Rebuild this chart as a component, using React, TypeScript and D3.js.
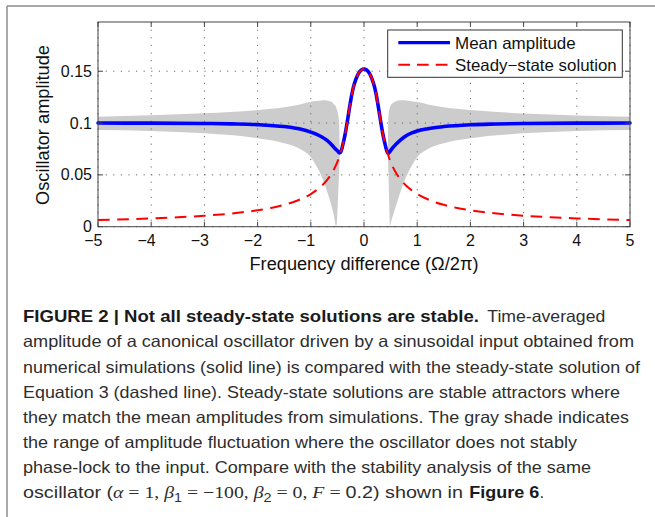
import React from 'react';
import * as d3 from 'd3';

// ---------- data ----------
const xTicks = [-5, -4, -3, -2, -1, 0, 1, 2, 3, 4, 5];
const yTicks = [0, 0.05, 0.1, 0.15];
const yTickLabels = ['0', '0.05', '0.1', '0.15'];

const meanX = [-5, -4, -3, -2.5, -2, -1.5, -1.2, -1.0, -0.9, -0.8, -0.7, -0.6, -0.55, -0.5, -0.46, -0.43, -0.4, -0.35, -0.3, -0.25, -0.2, -0.15, -0.1, -0.05, 0,
  0.05, 0.1, 0.15, 0.2, 0.25, 0.3, 0.35, 0.4, 0.43, 0.45, 0.5, 0.55, 0.6, 0.7, 0.8, 0.9, 1.0, 1.2, 1.5, 2, 2.5, 3, 4, 5];
const meanAmp = [0.1000, 0.0999, 0.0996, 0.0992, 0.0985, 0.0966, 0.0942, 0.0913, 0.0893, 0.0868, 0.0835, 0.0786, 0.0757, 0.0732, 0.0712, 0.0729, 0.0787, 0.0906, 0.1059, 0.1217, 0.1344, 0.1427, 0.1482, 0.1512, 0.1521,
  0.1512, 0.1482, 0.1427, 0.1344, 0.1217, 0.1059, 0.0906, 0.0787, 0.0729, 0.0706, 0.0735, 0.0768, 0.0795, 0.0843, 0.0880, 0.0905, 0.0924, 0.0946, 0.0966, 0.0984, 0.0991, 0.0996, 0.0999, 0.1000];

const steadyX = [-5, -4, -3.5, -3, -2.5, -2, -1.75, -1.5, -1.25, -1, -0.9, -0.8, -0.7, -0.6, -0.5, -0.45, -0.4, -0.35, -0.3, -0.25, -0.2, -0.15, -0.1, -0.05, 0,
  0.05, 0.1, 0.15, 0.2, 0.25, 0.3, 0.35, 0.4, 0.45, 0.5, 0.6, 0.7, 0.8, 0.9, 1, 1.25, 1.5, 1.75, 2, 2.5, 3, 3.5, 4, 5];
const steadyAmp = [0.0064, 0.0080, 0.0091, 0.0106, 0.0127, 0.0159, 0.0181, 0.0211, 0.0253, 0.0315, 0.0350, 0.0392, 0.0447, 0.0521, 0.0625, 0.0696, 0.0787, 0.0906, 0.1059, 0.1217, 0.1344, 0.1427, 0.1482, 0.1512, 0.1521,
  0.1512, 0.1482, 0.1427, 0.1344, 0.1217, 0.1059, 0.0906, 0.0787, 0.0696, 0.0625, 0.0521, 0.0447, 0.0392, 0.0350, 0.0315, 0.0253, 0.0211, 0.0181, 0.0159, 0.0127, 0.0106, 0.0091, 0.0080, 0.0064];

const bandLeftX = [-5, -4, -3, -2, -1.5, -1.2, -1.0, -0.9, -0.8, -0.75, -0.7, -0.65, -0.6, -0.56, -0.525, -0.51, -0.49, -0.47, -0.455];
const bandLeftHigh = [0.1062, 0.1075, 0.1094, 0.1126, 0.1152, 0.1180, 0.1205, 0.1213, 0.1218, 0.1220, 0.1218, 0.1212, 0.1200, 0.1180, 0.1155, 0.1130, 0.1090, 0.1020, 0.0712];
const bandLeftLow = [0.0933, 0.0924, 0.0901, 0.0853, 0.0805, 0.0750, 0.0670, 0.0590, 0.0490, 0.0425, 0.0350, 0.0270, 0.0180, 0.0090, 0.0005, 0.0040, 0.0260, 0.0500, 0.0712];

const bandRightX = [0.45, 0.455, 0.465, 0.475, 0.4875, 0.5, 0.55, 0.6, 0.65, 0.7, 0.75, 0.8, 0.9, 1.0, 1.2, 1.5, 2, 3, 4, 5];
const bandRightHigh = [0.0706, 0.1000, 0.1100, 0.1130, 0.1155, 0.1170, 0.1195, 0.1210, 0.1217, 0.1220, 0.1220, 0.1218, 0.1210, 0.1202, 0.1180, 0.1152, 0.1126, 0.1092, 0.1074, 0.1062];
const bandRightLow = [0.0706, 0.0600, 0.0400, 0.0200, 0.0005, 0.0030, 0.0120, 0.0200, 0.0280, 0.0360, 0.0430, 0.0490, 0.0590, 0.0670, 0.0750, 0.0805, 0.0853, 0.0901, 0.0924, 0.0933];

const legendLabels = ['Mean amplitude', 'Steady\u2212state solution'];
const xAxisLabel = 'Frequency difference (\u03A9/2\u03C0)';
const yAxisLabel = 'Oscillator amplitude';

const captionBold = 'FIGURE 2 | Not all steady-state solutions are stable.';
const captionFirstRest = 'Time-averaged';
const captionLines = [
  'amplitude of a canonical oscillator driven by a sinusoidal input obtained from',
  'numerical simulations (solid line) is compared with the steady-state solution of',
  'Equation 3 (dashed line). Steady-state solutions are stable attractors where',
  'they match the mean amplitudes from simulations. The gray shade indicates',
  'the range of amplitude fluctuation where the oscillator does not stably',
  'phase-lock to the input. Compare with the stability analysis of the same',
];
const captionLineLengths = [611, 617, 597, 606, 554, 568];

// ---------- component ----------
const FONT = '"Liberation Sans", Arial, Helvetica, sans-serif';
const MATH = '"Liberation Serif", "DejaVu Serif", serif';

export default function App() {
  const W = 655;
  const H = 517;
  const left = 98, right = 630, top = 22, bottom = 226.7;

  const x = d3.scaleLinear().domain([-5, 5]).range([left, right]);
  const y = d3.scaleLinear().domain([0, 0.1975]).range([bottom, top]);

  const zip = (xs: number[], ys: number[]) => xs.map((v, i) => [v, ys[i]] as [number, number]);

  const line = d3.line<[number, number]>()
    .x(d => x(d[0]))
    .y(d => y(d[1]))
    .curve(d3.curveMonotoneX);

  const area = d3.area<[number, number, number]>()
    .x(d => x(d[0]))
    .y0(d => y(d[1]))
    .y1(d => y(d[2]))
    .curve(d3.curveMonotoneX);

  const bandL = bandLeftX.map((v, i) => [v, bandLeftLow[i], bandLeftHigh[i]] as [number, number, number]);
  const bandR = bandRightX.map((v, i) => [v, bandRightLow[i], bandRightHigh[i]] as [number, number, number]);

  const gridColor = '#6a6a6a';
  const axisColor = '#444';
  const tickLen = 5;

  const capX = 23;
  const capY0 = 322.3;
  const capDy = 25.1;

  return (
    <svg width={W} height={H} viewBox={`0 0 ${W} ${H}`}
      style={{ position: 'absolute', left: 0, top: 0, background: '#fff' }}
      fontFamily={FONT}>
      <rect x={0} y={0} width={W} height={H} fill="#fff" />
      {/* outer frame */}
      <line x1={7} y1={6} x2={W} y2={6} stroke="#8c8c8c" strokeWidth={1.5} />
      <line x1={7} y1={6} x2={7} y2={H} stroke="#8c8c8c" strokeWidth={1.5} />

      {/* gray band */}
      <path d={area(bandL) || ''} fill="#cccccc" stroke="none" />
      <path d={area(bandR) || ''} fill="#cccccc" stroke="none" />

      {/* grid */}
      {xTicks.map(t => (
        <line key={'gx' + t} x1={x(t)} x2={x(t)} y1={top} y2={bottom}
          stroke={gridColor} strokeWidth={1} strokeDasharray="1.2,6.4" />
      ))}
      {yTicks.map(t => (
        <line key={'gy' + t} x1={left} x2={right} y1={y(t)} y2={y(t)}
          stroke={gridColor} strokeWidth={1} strokeDasharray="1.2,6.4" />
      ))}

      {/* mean amplitude */}
      <path d={line(zip(meanX, meanAmp)) || ''} fill="none" stroke="#0000ff" strokeWidth={3.6}
        strokeLinejoin="round" strokeLinecap="round" />
      {/* steady-state */}
      <path d={line(zip(steadyX, steadyAmp)) || ''} fill="none" stroke="#ff0000" strokeWidth={2}
        strokeDasharray="11.7,7.5" />

      {/* axes box */}
      <rect x={left} y={top} width={right - left} height={bottom - top} fill="none" stroke={axisColor} strokeWidth={1} />
      {xTicks.map(t => (
        <g key={'tx' + t}>
          <line x1={x(t)} x2={x(t)} y1={bottom} y2={bottom - tickLen} stroke={axisColor} strokeWidth={1} />
          <line x1={x(t)} x2={x(t)} y1={top} y2={top + tickLen} stroke={axisColor} strokeWidth={1} />
        </g>
      ))}
      {yTicks.map(t => (
        <g key={'ty' + t}>
          <line x1={left} x2={left + tickLen} y1={y(t)} y2={y(t)} stroke={axisColor} strokeWidth={1} />
          <line x1={right} x2={right - tickLen} y1={y(t)} y2={y(t)} stroke={axisColor} strokeWidth={1} />
        </g>
      ))}

      {/* tick labels */}
      {xTicks.map(t => (
        <g key={'lx' + t} fontSize={16} fill="#111">
          <text x={x(t)} y={246.3} textAnchor="middle">{String(Math.abs(t))}</text>
          {t < 0 && <text x={x(t) - 4.4} y={246.3} textAnchor="end">{'\u2212'}</text>}
        </g>
      ))}
      {yTicks.map((t, i) => (
        <text key={'ly' + t} x={92} y={y(t) + 5.6} textAnchor="end" fontSize={16} fill="#111">{yTickLabels[i]}</text>
      ))}

      {/* axis labels */}
      <text x={(left + right) / 2} y={270} textAnchor="middle" fontSize={18} fill="#111"
        textLength={229} lengthAdjust="spacingAndGlyphs">{xAxisLabel}</text>
      <text transform={`translate(48.5,125) rotate(-90)`} textAnchor="middle" fontSize={18} fill="#111"
        textLength={160} lengthAdjust="spacingAndGlyphs">{yAxisLabel}</text>

      {/* legend */}
      <rect x={387.7} y={30} width={234.6} height={47.3} fill="#fff" stroke="#333" strokeWidth={1} />
      <line x1={398.3} x2={450} y1={42.7} y2={42.7} stroke="#0000ff" strokeWidth={3.2} />
      <line x1={398.3} x2={450} y1={64.8} y2={64.8} stroke="#ff0000" strokeWidth={2} strokeDasharray="11.7,7" />
      <text x={455} y={49.3} fontSize={16.5} fill="#111" textLength={120.7} lengthAdjust="spacingAndGlyphs">{legendLabels[0]}</text>
      <text x={455} y={71} fontSize={16.5} fill="#111" textLength={161.7} lengthAdjust="spacingAndGlyphs">{legendLabels[1]}</text>

      {/* caption */}
      <g fontSize={16.5} fill="#2e2e2e">
        <text x={capX} y={capY0} fontWeight="bold" fill="#1a1a1a" textLength={456} lengthAdjust="spacingAndGlyphs">{captionBold}</text>
        <text x={487.3} y={capY0} textLength={118} lengthAdjust="spacingAndGlyphs">{captionFirstRest}</text>
        {captionLines.map((s, i) => (
          <text key={'cap' + i} x={capX} y={capY0 + capDy * (i + 1)} textLength={captionLineLengths[i]}
            lengthAdjust="spacingAndGlyphs">{s}</text>
        ))}
        <text x={capX} y={capY0 + capDy * 7} textLength={440} lengthAdjust="spacingAndGlyphs">
          <tspan>oscillator (</tspan>
          <tspan fontFamily={MATH} fontStyle="italic">{'\u03B1'}</tspan>
          <tspan fontFamily={MATH}> = 1, </tspan>
          <tspan fontFamily={MATH} fontStyle="italic">{'\u03B2'}</tspan>
          <tspan fontSize={12} dy={4}>1</tspan>
          <tspan fontFamily={MATH} dy={-4}> = {'\u2212'}100, </tspan>
          <tspan fontFamily={MATH} fontStyle="italic">{'\u03B2'}</tspan>
          <tspan fontSize={12} dy={4}>2</tspan>
          <tspan fontFamily={MATH} dy={-4}> = 0, </tspan>
          <tspan fontFamily={MATH} fontStyle="italic">F</tspan>
          <tspan fontFamily={MATH}> = </tspan>
          <tspan>0.2) shown in</tspan>
        </text>
        <text x={469.3} y={capY0 + capDy * 7} fontWeight="bold" fill="#1a1a1a" textLength={70} lengthAdjust="spacingAndGlyphs">Figure 6</text>
        <text x={539.6} y={capY0 + capDy * 7}>.</text>
      </g>
    </svg>
  );
}
